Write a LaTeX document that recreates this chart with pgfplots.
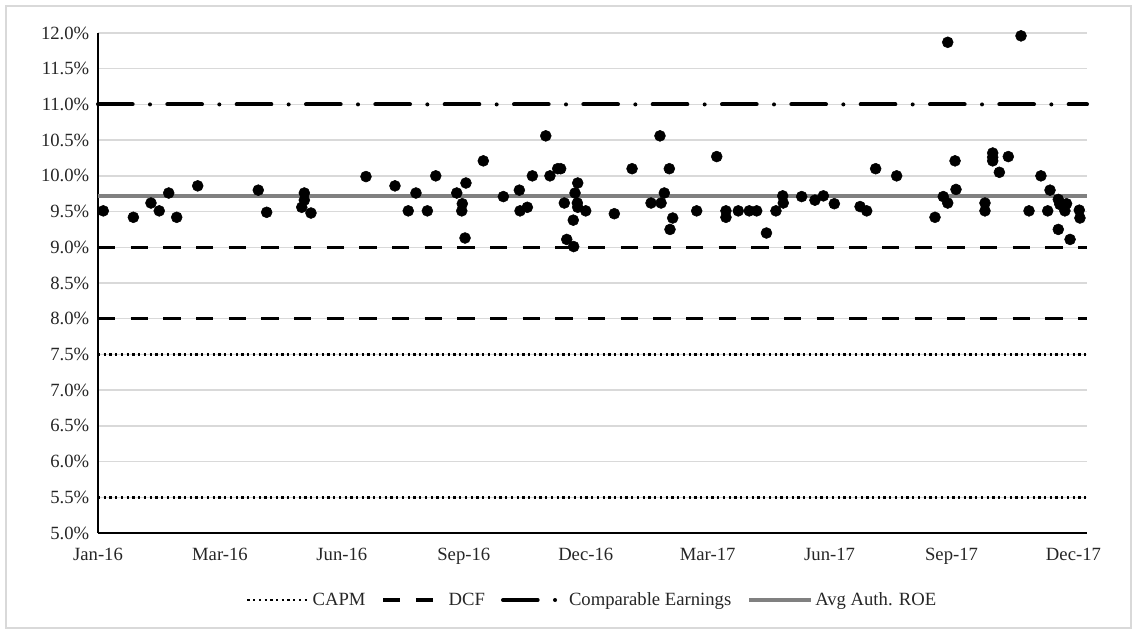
\documentclass[border=0pt]{standalone}
\usepackage{pgfplots}
\pgfplotsset{compat=1.18}
\usepackage{fontspec}
\setmainfont{Liberation Serif}
\definecolor{gridgray}{HTML}{D9D9D9}
\definecolor{avggray}{HTML}{808080}
\definecolor{txt}{HTML}{262626}
\begin{document}
\begin{tikzpicture}
\path[use as bounding box] (0,0) rectangle (852.75pt,-475.5pt);
\draw[gridgray, line width=0.8pt] (4.5pt,-4.5pt) rectangle (848.25pt,-471pt);
\begin{axis}[
  at={(73.5pt,-399.75pt)}, anchor=south west,
  scale only axis, width=741.75pt, height=375pt,
  xmin=0, xmax=730, ymin=5, ymax=12,
  axis x line=bottom, axis y line=left,
  axis line style={-, black, line width=1.2pt},
  major tick length=0pt,
  ytick={5,5.5,...,12.01},
  ymajorgrids, grid style={gridgray, line width=1pt},
  xtick={0,90,180,270,360,450,540,630,720},
  xticklabels={Jan-16,Mar-16,Jun-16,Sep-16,Dec-16,Mar-17,Jun-17,Sep-17,Dec-17},
  /pgf/number format/assume math mode=true,
  yticklabel={\pgfmathprintnumber[fixed,fixed zerofill,precision=1]{\tick}\%},
  tick label style={font=\fontsize{14}{16}\selectfont, text=txt},
  xticklabel style={yshift=-8pt},
  yticklabel style={xshift=-3pt},
  legend style={at={(0.5,-0.134)}, anchor=center, draw=none, fill=none,
    font=\fontsize{14}{16}\selectfont, text=txt, legend columns=4,
    /tikz/every even column/.append style={column sep=10pt},
    /tikz/every odd column/.append style={column sep=0pt}},
  legend image code/.code={\draw[#1] (0pt,0pt) -- (46pt,0pt);},
  clip=false,
]
\addplot[black, line width=1.9pt, dash pattern=on 1.7pt off 2.6pt] coordinates {(0,7.5) (730,7.5)};
\addlegendentry{CAPM}
\addplot[black, line width=1.9pt, dash pattern=on 1.7pt off 2.6pt, forget plot] coordinates {(0,5.5) (730,5.5)};
\addplot[black, line width=2.4pt, dash pattern=on 13pt off 11.5pt] coordinates {(0,8) (730,8)};
\addlegendentry{DCF}
\addplot[black, line width=2.4pt, dash pattern=on 13pt off 11.5pt, forget plot] coordinates {(0,9) (730,9)};
\addplot[black, line width=3pt, line cap=round, dash pattern=on 26pt off 13pt on 0pt off 13pt] coordinates {(0,11) (730,11)};
\addlegendentry{Comparable Earnings}
\addplot[avggray, line width=3pt] coordinates {(0,9.72) (730,9.72)};
\addlegendentry{Avg Auth. ROE}
\addplot[only marks, mark=*, mark size=4.1pt, mark options={fill=black, draw=black}, forget plot] coordinates {
(3.9,9.51) (26.1,9.42) (39.1,9.62) (45.2,9.51) (52.2,9.76) (58.1,9.42) (73.6,9.86)
(118.3,9.80) (124.5,9.49) (152.3,9.76) (152.3,9.66) (150.4,9.56) (157.2,9.48)
(197.8,9.99) (219.2,9.86) (229,9.51) (234.7,9.76) (243.1,9.51) (249.3,10.0)
(264.8,9.76) (271.6,9.90) (268.9,9.61) (268.5,9.51) (270.9,9.13) (284.4,10.21)
(299.2,9.71) (311,9.80) (311.5,9.51) (316.9,9.56) (320.6,10.0) (330.5,10.56)
(333.6,10.0) (339.3,10.10) (341.5,10.10) (344.2,9.62) (346,9.11) (351.1,9.01)
(350.8,9.38) (352.1,9.76) (354.1,9.90) (353.8,9.62) (354.1,9.56) (360,9.51)
(381.1,9.47) (394.2,10.10) (408.2,9.62) (414.8,10.56) (415.6,9.62) (418,9.76)
(421.7,10.10) (424.2,9.41) (422.2,9.25) (441.9,9.51) (456.7,10.27) (463.5,9.51)
(463.5,9.42) (472.6,9.51) (480.7,9.51) (486.2,9.51) (493.4,9.20) (500.4,9.51)
(505.4,9.72) (505.8,9.62) (519.4,9.71) (529.2,9.66) (535.4,9.72) (543.5,9.61)
(562.5,9.57) (567.4,9.51) (574,10.10) (589.5,10.0) (617.8,9.42) (623.9,9.71)
(627.2,9.62) (627.2,11.87) (632.6,10.21) (633.3,9.81) (654.7,9.62) (654.7,9.51)
(660.4,10.32) (660.4,10.26) (660.4,10.21) (665.3,10.05) (671.9,10.27) (681.3,11.96)
(687.2,9.51) (696,10.0) (702.7,9.80) (701,9.51) (708.8,9.67) (710,9.60)
(714.9,9.61) (713.7,9.51) (708.8,9.25) (717.5,9.11) (724.3,9.52) (724.8,9.41)
};
\end{axis}
\end{tikzpicture}
\end{document}
